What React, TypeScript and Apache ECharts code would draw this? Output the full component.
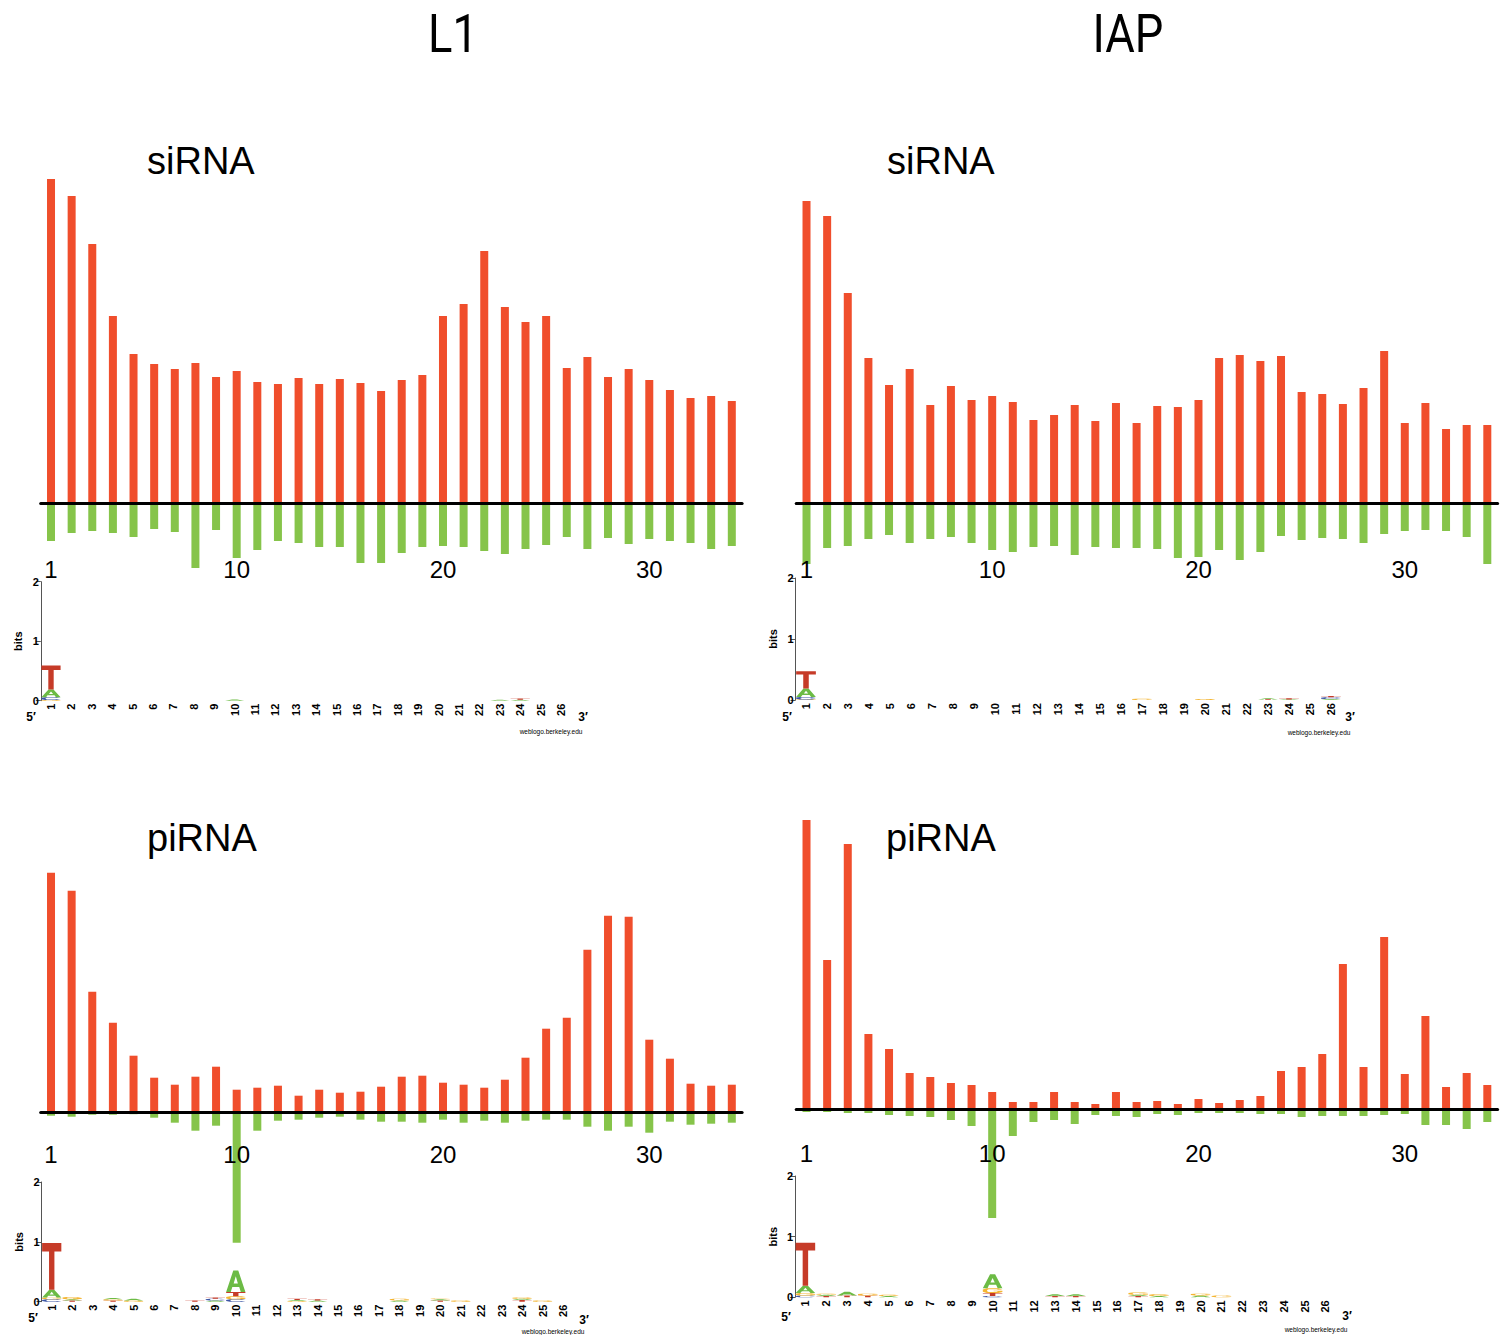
import React, { useEffect, useRef } from "react";
import * as echarts from "echarts";

// ---------- data ----------
const categories = ["1","2","3","4","5","6","7","8","9","10","11","12","13","14","15","16","17","18","19","20","21","22","23","24","25","26","27","28","29","30","31","32","33","34"];
const tickLabels = ["1", "10", "20", "30"];
const logoCategories = ["1","2","3","4","5","6","7","8","9","10","11","12","13","14","15","16","17","18","19","20","21","22","23","24","25","26"];

const l1SiPos = [324,307,259,187,149,139,134,140,126,132,121,119,125,119,124,120,112,123,128,187,199,252,196,181,187,135,146,126,134,123,113,105,107,102];
const l1SiNeg = [38,30,28,30,34,26,29,65,27,55,47,38,40,44,44,60,60,50,44,43,44,48,51,46,42,34,46,35,41,36,38,40,46,43];
const iapSiPos = [302,287,210,145,118,134,98,117,103,107,101,83,88,98,82,100,80,97,96,103,145,148,142,147,111,109,99,115,152,80,100,74,78,78];
const iapSiNeg = [61,45,43,36,32,40,36,34,40,47,49,44,43,52,44,45,45,46,55,54,47,57,49,33,37,35,36,40,31,28,27,28,34,61];
const l1PiPos = [240,222,121,90,57,35,28,36,46,23,25,27,17,23,20,21,26,36,37,30,28,25,33,55,84,95,163,197,196,73,54,29,27,28];
const l1PiNeg = [3,4,2,2,1.5,5,10,18,13,130,18,8,7,5,4,7,9,9,10,7,10,8,10,8,7,7,14,18,14,20,9,12,11,10];
const iapPiPos = [289,149,265,75,60,36,32,26,24,17,7,7,17,7,5,17,7,8,5,10,6,9,13,38,42,55,145,42,172,35,93,22,36,24];
const iapPiNeg = [3,3,4,4,6,7,8,11,17,109,27,13,11,15,6,7,8,5,6,4,4,4,5,5,8,7,7,7,6,5,16,16,20,13];

// sequence logos: [position, [[letter, bits], ...] bottom to top]
const l1SiLogo: [number, [string, number][]][] = [
  [1, [["G", 0.01], ["C", 0.05], ["A", 0.13], ["T", 0.4]]],
  [10, [["A", 0.02]]],
  [23, [["A", 0.015]]],
  [24, [["A", 0.015], ["T", 0.02]]],
];
const iapSiLogo: [number, [string, number][]][] = [
  [1, [["G", 0.01], ["C", 0.04], ["A", 0.14], ["T", 0.28]]],
  [17, [["G", 0.02]]],
  [20, [["G", 0.015]]],
  [23, [["T", 0.01], ["A", 0.02]]],
  [24, [["A", 0.01], ["T", 0.02]]],
  [26, [["A", 0.015], ["C", 0.03], ["T", 0.02]]],
];
const l1PiLogo: [number, [string, number][]][] = [
  [1, [["C", 0.04], ["G", 0.03], ["A", 0.13], ["T", 0.78]]],
  [2, [["T", 0.02], ["A", 0.02], ["G", 0.04]]],
  [4, [["T", 0.02], ["G", 0.02], ["A", 0.02]]],
  [5, [["G", 0.02], ["A", 0.03]]],
  [8, [["T", 0.02]]],
  [9, [["A", 0.02], ["C", 0.03], ["T", 0.02]]],
  [10, [["C", 0.04], ["G", 0.05], ["T", 0.07], ["A", 0.36]]],
  [13, [["G", 0.01], ["A", 0.02], ["T", 0.02]]],
  [14, [["A", 0.02], ["T", 0.02]]],
  [18, [["A", 0.02], ["G", 0.03]]],
  [20, [["T", 0.02], ["A", 0.02], ["G", 0.01]]],
  [21, [["G", 0.02]]],
  [24, [["T", 0.03], ["A", 0.02], ["G", 0.02]]],
  [25, [["G", 0.02]]],
];
const iapPiLogo: [number, [string, number][]][] = [
  [1, [["C", 0.03], ["G", 0.04], ["A", 0.12], ["T", 0.71]]],
  [2, [["T", 0.02], ["A", 0.02], ["G", 0.02]]],
  [3, [["T", 0.03], ["A", 0.06]]],
  [4, [["T", 0.03], ["G", 0.03]]],
  [5, [["A", 0.02], ["G", 0.02]]],
  [10, [["C", 0.02], ["T", 0.05], ["G", 0.08], ["A", 0.23]]],
  [13, [["T", 0.02], ["A", 0.03]]],
  [14, [["T", 0.02], ["A", 0.03]]],
  [17, [["T", 0.02], ["A", 0.02], ["G", 0.04]]],
  [18, [["A", 0.02], ["G", 0.03]]],
  [20, [["A", 0.03], ["G", 0.03]]],
  [21, [["G", 0.03]]],
];

// ---------- styles / layout ----------
const FONT = "'Liberation Sans', Arial, Helvetica, sans-serif";
const RED = "#F04E2C";
const GREEN = "#86C44A";
const LETTERS = ["A", "C", "G", "T"];
const LETTER_COLORS = ["#6CBB45", "#3C56A5", "#F4B532", "#C63B28"];

// grid bottom sits just above the position labels; bars are not clipped
const barPanels = [
  { pos: l1SiPos, neg: l1SiNeg, left: 40.7, baseline: 503, ymax: 340, ymin: -50.5 },
  { pos: iapSiPos, neg: iapSiNeg, left: 796.2, baseline: 503, ymax: 340, ymin: -50.5 },
  { pos: l1PiPos, neg: l1PiNeg, left: 40.7, baseline: 1112.7, ymax: 260, ymin: -25.3 },
  { pos: iapPiPos, neg: iapPiNeg, left: 796.2, baseline: 1109, ymax: 300, ymin: -28.7 },
];
const BAR_BAND = 20.63;

const logoPanels = [
  { data: l1SiLogo, left: 40.8, step: 20.4, top: 581.7, bottom: 700.7 },
  { data: iapSiLogo, left: 795.5, step: 21.0, top: 578, bottom: 700 },
  { data: l1PiLogo, left: 41.5, step: 20.45, top: 1182, bottom: 1301.7 },
  { data: iapPiLogo, left: 795, step: 20.8, top: 1176, bottom: 1297.3 },
];

// letter outlines in unit box (u: 0..1 left-right, v: 0..1 bottom-top)
const SHAPES: Record<string, number[][][]> = {
  T: [[[0, 1], [1, 1], [1, 0.82], [0.64, 0.82], [0.64, 0], [0.36, 0], [0.36, 0.82], [0, 0.82]]],
  A: [[[0, 0], [0.37, 1], [0.63, 1], [1, 0], [0.76, 0], [0.68, 0.24], [0.32, 0.24], [0.24, 0]]],
  C: [[[1, 0.75], [0.8, 1], [0.2, 1], [0, 0.75], [0, 0.25], [0.2, 0], [0.8, 0], [1, 0.25], [0.78, 0.32], [0.7, 0.2], [0.3, 0.2], [0.22, 0.35], [0.22, 0.65], [0.3, 0.8], [0.7, 0.8], [0.78, 0.68]]],
  G: [[[1, 0.75], [0.8, 1], [0.2, 1], [0, 0.75], [0, 0.25], [0.2, 0], [0.8, 0], [1, 0.2], [1, 0.5], [0.55, 0.5], [0.55, 0.36], [0.78, 0.36], [0.7, 0.2], [0.3, 0.2], [0.22, 0.35], [0.22, 0.65], [0.3, 0.8], [0.7, 0.8], [0.78, 0.68]]],
};
const A_HOLE = [[0.39, 0.4], [0.5, 0.74], [0.61, 0.4]];

function logoItems(cols: [number, [string, number][]][]) {
  const items: number[][] = [];
  for (const [p, stack] of cols) {
    let base = 0;
    for (const [letter, h] of stack) {
      items.push([p - 1, base, base + h, LETTERS.indexOf(letter)]);
      base += h;
    }
  }
  return items;
}

function renderLetter(params: any, api: any) {
  const idx = api.value(0);
  const y0 = api.value(1);
  const y1 = api.value(2);
  const code = api.value(3);
  const p0 = api.coord([idx, y0]);
  const p1 = api.coord([idx, y1]);
  const bw = api.size([1, 0])[0];
  const w = bw * 0.94;
  const left = p0[0] - w / 2;
  const bottom = p0[1];
  const h = Math.max(bottom - p1[1], 0.8);
  const map = (pt: number[]) => [left + pt[0] * w, bottom - pt[1] * h];
  const letter = LETTERS[code];
  const color = LETTER_COLORS[code];
  const children: any[] = SHAPES[letter].map((poly) => ({
    type: "polygon",
    shape: { points: poly.map(map) },
    style: { fill: color },
  }));
  if (letter === "A" && h > 4) {
    children.push({ type: "polygon", shape: { points: A_HOLE.map(map) }, style: { fill: "#fff" } });
  }
  return { type: "group", children };
}

function buildOption() {
  const grid: any[] = [];
  const xAxis: any[] = [];
  const yAxis: any[] = [];
  const series: any[] = [];

  barPanels.forEach((p, i) => {
    grid.push({
      left: p.left,
      top: p.baseline - p.ymax,
      width: BAR_BAND * categories.length,
      height: p.ymax - p.ymin,
      containLabel: false,
    });
    xAxis.push({
      gridIndex: i,
      type: "category",
      data: categories,
      z: 10,
      axisLine: { onZero: true, lineStyle: { color: "#000", width: 3 } },
      axisTick: { show: false },
      splitLine: { show: false },
      axisLabel: {
        interval: (_idx: number, val: string) => tickLabels.includes(val),
        margin: 4,
        fontSize: 24,
        color: "#000",
        fontFamily: FONT,
      },
    });
    yAxis.push({ gridIndex: i, type: "value", min: p.ymin, max: p.ymax, show: false, splitLine: { show: false } });
    series.push({
      type: "bar",
      xAxisIndex: i,
      yAxisIndex: i,
      data: p.pos,
      barWidth: 8,
      barGap: "-100%",
      itemStyle: { color: RED },
      clip: false,
    });
    series.push({
      type: "bar",
      xAxisIndex: i,
      yAxisIndex: i,
      data: p.neg.map((v) => -v),
      barWidth: 8,
      barGap: "-100%",
      itemStyle: { color: GREEN },
      clip: false,
    });
  });

  logoPanels.forEach((p, k) => {
    const i = 4 + k;
    grid.push({
      left: p.left,
      top: p.top,
      width: p.step * logoCategories.length,
      height: p.bottom - p.top,
      containLabel: false,
    });
    xAxis.push({
      gridIndex: i,
      type: "category",
      data: logoCategories,
      axisLine: { show: false },
      axisTick: { show: false },
      splitLine: { show: false },
      axisLabel: {
        interval: 0,
        rotate: 90,
        fontSize: 11,
        fontWeight: "bold",
        color: "#000",
        margin: 3,
        fontFamily: FONT,
      },
    });
    yAxis.push({
      gridIndex: i,
      type: "value",
      min: 0,
      max: 2,
      interval: 1,
      axisLine: { show: true, lineStyle: { color: "#555", width: 1 } },
      axisTick: { show: true, length: 5, lineStyle: { color: "#555" } },
      splitLine: { show: false },
      axisLabel: { fontSize: 11, fontWeight: "bold", color: "#000", margin: 2, fontFamily: FONT },
      name: "bits",
      nameLocation: "middle",
      nameGap: 17,
      nameTextStyle: { fontSize: 11, fontWeight: "bold", color: "#000", fontFamily: FONT },
    });
    series.push({
      type: "custom",
      xAxisIndex: i,
      yAxisIndex: i,
      data: logoItems(p.data),
      encode: { x: 0, y: [1, 2] },
      renderItem: renderLetter,
      clip: false,
    });
  });

  const text = (t: string, x: number, y: number, size: number, opts: any = {}) => ({
    type: "text",
    x,
    y,
    scaleX: opts.scaleX ?? 1,
    style: {
      text: t,
      fill: "#000",
      font: `${opts.weight ?? "normal"} ${size}px ${opts.family ?? FONT}`,
      textAlign: opts.align ?? "center",
      textVerticalAlign: "middle",
    },
  });

  const TITLE_FONT = "Roboto, 'Liberation Sans', sans-serif";
  const graphic: any[] = [
    text("L1", 453, 34, 54, { scaleX: 0.84, family: TITLE_FONT, weight: "normal" }),
    text("IAP", 1128, 34, 54, { scaleX: 0.84, family: TITLE_FONT, weight: "normal" }),
    text("siRNA", 147, 161, 38, { align: "left" }),
    text("siRNA", 887, 161, 38, { align: "left" }),
    text("piRNA", 147, 838, 38, { align: "left" }),
    text("piRNA", 886, 838, 38, { align: "left" }),
    text("5\u2032", 31, 716.5, 12, { weight: "bold" }),
    text("3\u2032", 583, 716.5, 12, { weight: "bold" }),
    text("5\u2032", 787, 717, 12, { weight: "bold" }),
    text("3\u2032", 1350, 716.5, 12, { weight: "bold" }),
    text("5\u2032", 33, 1318, 12, { weight: "bold" }),
    text("3\u2032", 584, 1320, 12, { weight: "bold" }),
    text("5\u2032", 786, 1316.5, 12, { weight: "bold" }),
    text("3\u2032", 1347, 1315.5, 12, { weight: "bold" }),
    text("weblogo.berkeley.edu", 551, 731.5, 6.5),
    text("weblogo.berkeley.edu", 1319, 732, 6.5),
    text("weblogo.berkeley.edu", 553, 1331, 6.5),
    text("weblogo.berkeley.edu", 1316, 1329, 6.5),
  ];

  return {
    animation: false,
    backgroundColor: "#fff",
    grid,
    xAxis,
    yAxis,
    series,
    graphic,
  };
}

export default function App() {
  const ref = useRef<HTMLDivElement>(null);
  useEffect(() => {
    if (!ref.current) return;
    const chart = echarts.init(ref.current, null, { renderer: "svg" });
    chart.setOption(buildOption() as any);
    return () => chart.dispose();
  }, []);
  return (
    <div
      ref={ref}
      style={{ position: "absolute", left: 0, top: 0, width: 1503, height: 1335, background: "#fff" }}
    />
  );
}
